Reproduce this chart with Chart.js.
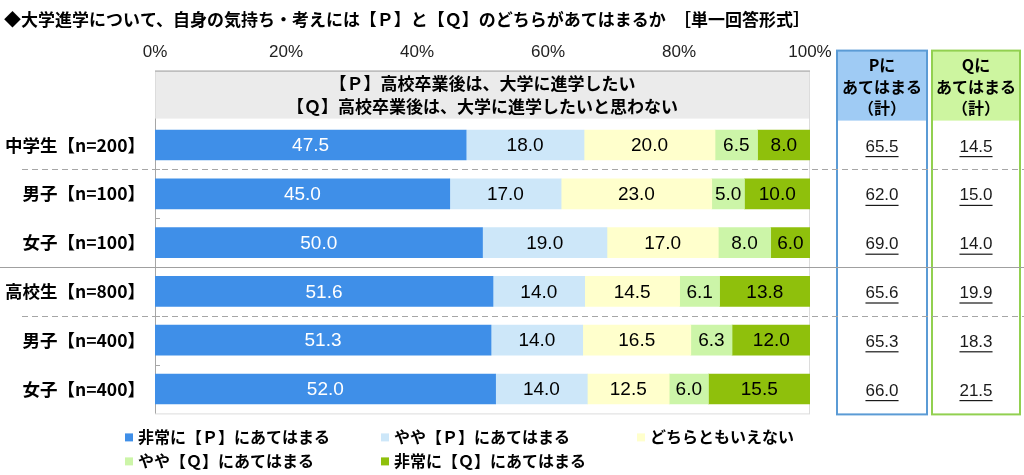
<!DOCTYPE html>
<html lang="ja">
<head>
<meta charset="utf-8">
<title>大学進学について</title>
<script src="https://cdn.jsdelivr.net/npm/chart.js@4.4.1/dist/chart.umd.min.js"></script>
<style>
  html, body { margin: 0; padding: 0; background: #fff; }
  #wrap { position: relative; width: 1024px; height: 475px; }
</style>
</head>
<body>
<div id="wrap"><canvas id="myChart"></canvas></div>
<script>
// データ
const categories = ['中学生【n=200】', '男子【n=100】', '女子【n=100】', '高校生【n=800】', '男子【n=400】', '女子【n=400】'];
const seriesNames = ['非常に【Ｐ】にあてはまる', 'やや【Ｐ】にあてはまる', 'どちらともいえない', 'やや【Ｑ】にあてはまる', '非常に【Ｑ】にあてはまる'];
const veryP   = [47.5, 45.0, 50.0, 51.6, 51.3, 52.0];
const someP   = [18.0, 17.0, 19.0, 14.0, 14.0, 14.0];
const neither = [20.0, 23.0, 17.0, 14.5, 16.5, 12.5];
const someQ   = [6.5, 5.0, 8.0, 6.1, 6.3, 6.0];
const veryQ   = [8.0, 10.0, 6.0, 13.8, 12.0, 15.5];
const pTotal  = [65.5, 62.0, 69.0, 65.6, 65.3, 66.0];
const qTotal  = [14.5, 15.0, 14.0, 19.9, 18.3, 21.5];
const headerLines = ['【Ｐ】高校卒業後は、大学に進学したい', '【Ｑ】高校卒業後は、大学に進学したいと思わない'];
const pHead = ['Pに', 'あてはまる', '（計）'];
const qHead = ['Qに', 'あてはまる', '（計）'];

const colors = ['#3f8fe8', '#cde7f9', '#ffffcc', '#ccf5a8', '#8fc00c'];
const JP = '"Noto Sans CJK JP", "Noto Sans", sans-serif';
const NUM = '"Liberation Sans", Arial, sans-serif';

const sideBoxes = [
    { x: 837, w: 90, border: '#5b9bd5', fill: '#9fcbf4', head: pHead, values: pTotal },
    { x: 932, w: 88, border: '#92d050', fill: '#cdf5a0', head: qHead, values: qTotal }
];

function hline(ctx, x1, x2, y, color, dash) {
    ctx.save();
    ctx.strokeStyle = color;
    ctx.lineWidth = 1;
    ctx.setLineDash(dash || []);
    ctx.beginPath();
    ctx.moveTo(x1, y);
    ctx.lineTo(x2, y);
    ctx.stroke();
    ctx.restore();
}

const overlay = {
    id: 'overlay',
    beforeDatasetsDraw(chart) {
        const { ctx, chartArea: a, scales: { y } } = chart;
        const hTop = a.top - 50, hBot = a.top - 2;
        const mid = i => Math.round((y.getPixelForValue(i) + y.getPixelForValue(i + 1)) / 2) + 0.5;

        ctx.save();
        // 見出しボックス
        ctx.fillStyle = '#ebebeb';
        ctx.fillRect(a.left, hTop, a.right - a.left, hBot - hTop);
        ctx.strokeStyle = '#dcdcdc';
        ctx.lineWidth = 1;
        ctx.strokeRect(a.left + 0.5, hTop + 0.5, a.right - a.left - 1, a.bottom - hTop);
        hline(ctx, a.left, a.right, hTop + 0.5, '#a6a6a6');
        ctx.strokeStyle = '#a6a6a6';
        ctx.beginPath();
        ctx.moveTo(a.left + 0.5, hBot);
        ctx.lineTo(a.left + 0.5, a.bottom);
        ctx.stroke();
        for (let i = 0; i < categories.length - 1; i++) {
            hline(ctx, a.left, a.left + 5, mid(i), '#a6a6a6');
        }

        ctx.fillStyle = '#000';
        ctx.font = 'bold 17px ' + JP;
        ctx.textAlign = 'center';
        ctx.textBaseline = 'middle';
        ctx.fillText(headerLines[0], (a.left + a.right) / 2, a.top - 37);
        ctx.fillText(headerLines[1], (a.left + a.right) / 2, a.top - 14);

        // 右側の合計ボックス
        const bTop = a.top - 70, bBot = a.bottom + 1;
        sideBoxes.forEach(b => {
            ctx.fillStyle = b.fill;
            ctx.fillRect(b.x, bTop, b.w, a.top - bTop);
            ctx.strokeStyle = b.border;
            ctx.lineWidth = 2;
            ctx.strokeRect(b.x, bTop, b.w, bBot - bTop);
            ctx.fillStyle = '#000';
            ctx.font = 'bold 16px ' + JP;
            ctx.fillText(b.head[0], b.x + b.w / 2, a.top - 56);
            ctx.fillText(b.head[1], b.x + b.w / 2, a.top - 34);
            ctx.fillText(b.head[2], b.x + b.w / 2, a.top - 13);
        });

        // 区切り線
        hline(ctx, 22, 1024, mid(0), '#a6a6a6', [6, 4]);
        hline(ctx, 0, 1024, mid(2), '#a0a0a0');
        hline(ctx, 22, 1024, mid(3), '#a6a6a6', [6, 4]);
        ctx.restore();
    },
    afterDatasetsDraw(chart) {
        const { ctx, chartArea: a } = chart;
        ctx.save();
        ctx.textAlign = 'center';
        ctx.textBaseline = 'middle';

        // 値ラベル
        ctx.font = '19px ' + NUM;
        chart.data.datasets.forEach((ds, di) => {
            chart.getDatasetMeta(di).data.forEach((el, i) => {
                const { x, base, y } = el.getProps(['x', 'base', 'y'], true);
                ctx.fillStyle = di === 0 ? '#fff' : '#000';
                ctx.fillText(ds.data[i].toFixed(1), (x + base) / 2, y + 1);
            });
        });

        // 合計値（下線付き）
        const yScale = chart.scales.y;
        ctx.font = '17px ' + NUM;
        sideBoxes.forEach(b => {
            b.values.forEach((v, i) => {
                const cy = yScale.getPixelForValue(i) + 2;
                const cx = b.x + b.w / 2;
                const t = v.toFixed(1);
                const w = ctx.measureText(t).width;
                ctx.fillStyle = '#1a1a1a';
                ctx.fillText(t, cx, cy);
                ctx.fillRect(cx - w / 2, cy + 9, w, 1.2);
            });
        });

        // 凡例
        const colX = [125, 381, 637];
        const rowY = [a.bottom + 24, a.bottom + 48];
        ctx.textAlign = 'left';
        ctx.font = 'bold 16px ' + JP;
        chart.data.datasets.forEach((ds, di) => {
            const cx = colX[di % 3], cy = rowY[Math.floor(di / 3)];
            ctx.fillStyle = ds.backgroundColor;
            ctx.fillRect(cx, cy - 4, 8, 8);
            ctx.fillStyle = '#000';
            ctx.fillText(ds.label, cx + 13, cy);
        });
        ctx.restore();
    }
};

const seriesValues = [veryP, someP, neither, someQ, veryQ];

const ctx = document.getElementById('myChart').getContext('2d');
const myChart = new Chart(ctx, {
    type: 'bar',
    data: {
        labels: categories,
        datasets: seriesNames.map((name, i) => ({
            label: name,
            data: seriesValues[i],
            backgroundColor: colors[i],
            borderWidth: 0,
            barThickness: 30
        }))
    },
    options: {
        indexAxis: 'y',
        responsive: true,
        maintainAspectRatio: false,
        animation: false,
        layout: { padding: { left: 4, right: 214, top: 0, bottom: 61.6 } },
        plugins: {
            legend: { display: false },
            tooltip: { enabled: false },
            title: {
                display: true,
                align: 'start',
                text: '◆大学進学について、自身の気持ち・考えには【Ｐ】と【Ｑ】のどちらがあてはまるか　［単一回答形式］',
                color: '#000',
                font: { family: JP, size: 17, weight: 'bold' },
                padding: { top: 9, bottom: 12.4 }
            }
        },
        scales: {
            x: {
                position: 'top',
                stacked: true,
                min: 0,
                max: 100,
                grid: { display: false, drawTicks: false },
                border: { display: false },
                afterFit: scale => { scale.height = 78.8; },
                ticks: {
                    stepSize: 20,
                    padding: 58.4,
                    color: '#222',
                    font: { family: NUM, size: 17 },
                    callback: v => v + '%'
                }
            },
            y: {
                stacked: true,
                grid: { display: false, drawTicks: false },
                border: { display: false },
                afterFit: scale => { scale.width = 151; },
                ticks: {
                    padding: 10,
                    color: '#000',
                    font: { family: JP, size: 17.5, weight: 'bold' }
                }
            }
        }
    },
    plugins: [overlay]
});
</script>
</body>
</html>
